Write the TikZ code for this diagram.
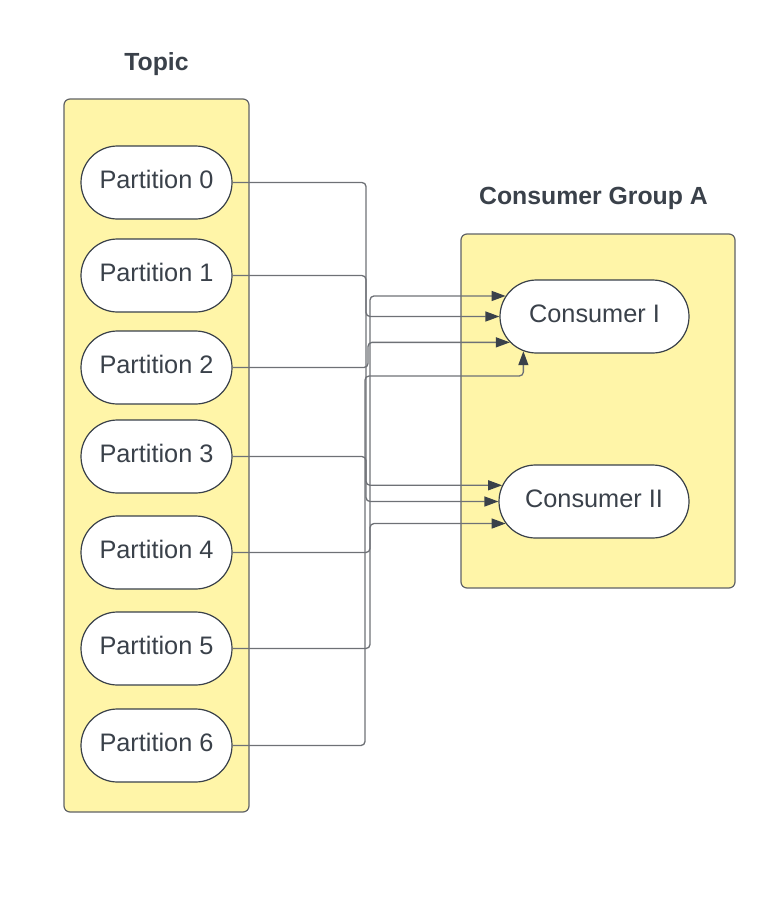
\documentclass[tikz,border=0pt]{standalone}
\usepackage{fontspec}
\setmainfont{Liberation Sans}
\usetikzlibrary{arrows.meta,shapes.misc}
\definecolor{ink}{HTML}{3A414A}
\definecolor{wire}{HTML}{6E7176}
\definecolor{pad}{HTML}{FFF5A8}
\definecolor{rim}{HTML}{606266}
\tikzset{
  part/.style={rounded rectangle, draw=ink, fill=white, line width=1.2pt,
    minimum width=151pt, minimum height=73pt, inner sep=0pt, text=ink,
    text depth=6pt, font=\fontsize{25.3}{30}\selectfont},
  group/.style={draw=rim, fill=pad, line width=1.2pt, rounded corners=6pt},
  title/.style={text=ink, font=\fontsize{24.8}{29}\selectfont\bfseries},
  link/.style={draw=wire, line width=1.3pt, rounded corners=4pt,
    -{Triangle[length=14pt,width=10pt,color=ink]}},
}
\begin{document}
\begin{tikzpicture}[x=1pt,y=-1pt]
  \useasboundingbox (0,0) rectangle (784,902);
  % topic with its partitions
  \draw[group] (64,99) rectangle (249,812);
  \node[title] (topic) at (156.5,64) {Topic};
  \foreach \i/\y in {0/182.5, 1/275.5, 2/367.5, 3/456.5, 4/552.5, 5/648.5, 6/745.5}
  {
    \node[part] (p\i) at (156.5,\y) {Partition \i};
  }
  % consumer group
  \draw[group] (461,234) rectangle (735,588);
  \node[title] (grp) at (593.5,198) {Consumer Group A};
  \node[part, minimum width=189pt] (c1) at (594.5,316.5) {Consumer I};
  \node[part, minimum width=190pt] (c2) at (594,501.5) {Consumer II};
  % lanes of the connectors
  \coordinate (la) at (366,0);
  \coordinate (lb) at (368,0);
  \coordinate (lc) at (370,0);
  \coordinate (ld) at (365,376);   % bend below Consumer I
  \draw[link] (p0.east) -- (p0.east -| la) |- (c2.west);
  \draw[link] (p1.east) -- (p1.east -| la) |- (c1.west);
  \draw[link] (p2.east) -- (p2.east -| lb) |- (c1.197);
  \draw[link] (p3.east) -- (p3.east -| la) |- (c2.170);
  \draw[link] (p4.east) -- (p4.east -| lc) |- (c2.194);
  \draw[link] (p5.east) -- (p5.east -| lc) |- (c1.167);
  \draw[link] (p6.east) -| (ld) -| (c1.206);
\end{tikzpicture}
\end{document}
